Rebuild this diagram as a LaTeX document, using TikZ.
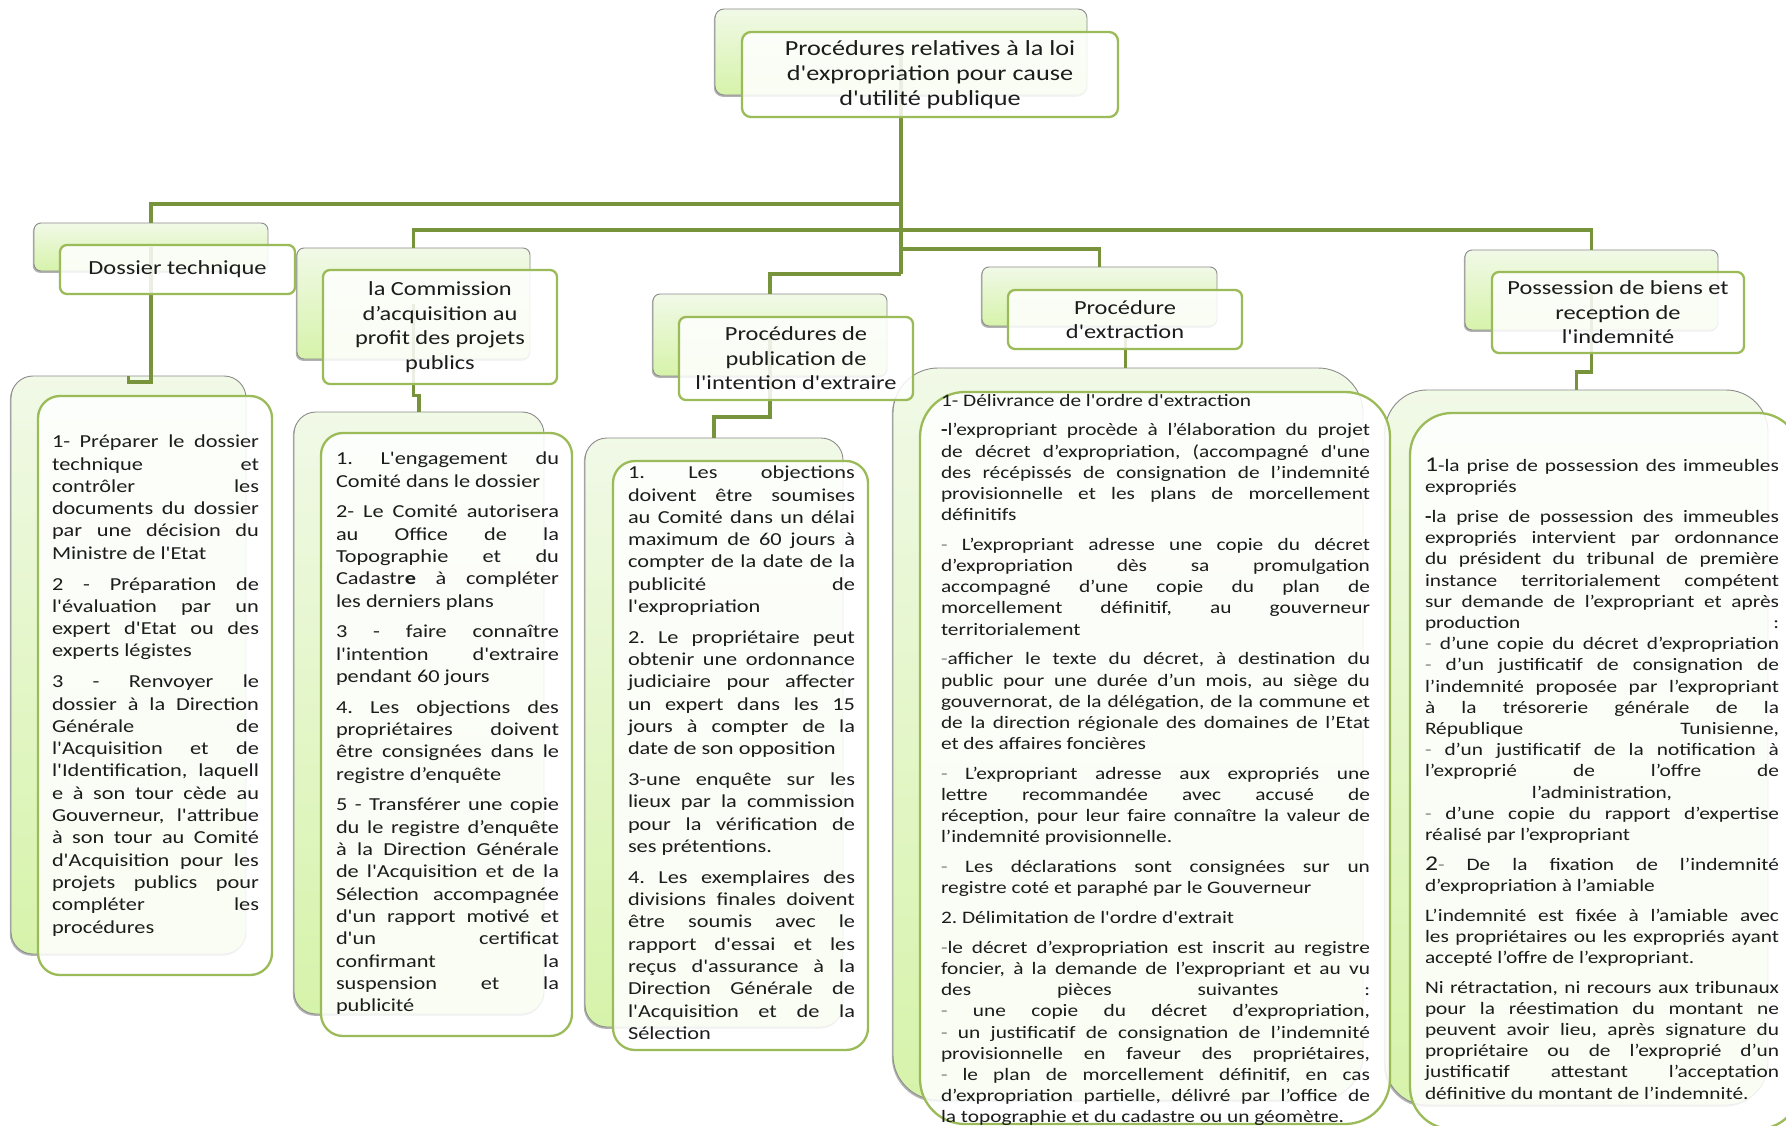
\documentclass[tikz,border=0pt]{standalone}
\usepackage{fontspec}
\setmainfont{Carlito}[FakeStretch=1.22,Ligatures=TeXOff]
\usetikzlibrary{shadows}
\definecolor{connc}{RGB}{119,147,60}
\definecolor{fbord}{RGB}{155,187,89}
\definecolor{btop}{RGB}{241,249,231}
\definecolor{bbot}{RGB}{214,243,170}
\definecolor{txt}{RGB}{28,28,28}
\newdimen\colw
\newcommand\jset[1]{\colw=#1\relax\spaceskip=\fontdimen2\font plus 1fil\relax\xspaceskip=\spaceskip\frenchspacing}
\newcommand\ljust[1]{\hbox to\colw{#1}}
\newcommand\llast[1]{\hbox to\colw{#1\hfill}}
\newcommand\lcent[1]{\hbox to\colw{\hfill#1\hfill}}
\newcommand\pgap{\vskip 8.5pt}
\newcommand\gd{\textcolor{black!50}{-}}
\hbadness=10000 \hfuzz=30pt
\begin{document}
\begin{tikzpicture}[x=1pt,y=-1pt,
  backbox/.style={draw=black!45, line width=0.9pt, top color=btop, bottom color=bbot,
    inner sep=0pt, outer sep=0pt, anchor=north west,
    drop shadow={shadow xshift=-1.2pt, shadow yshift=-1.8pt, opacity=0.3, fill=black}},
  frontbox/.style={draw=fbord, line width=2.3pt, fill=white, fill opacity=0.86,
    text opacity=1, inner sep=0pt, outer sep=0pt, text=txt, align=center, anchor=north west},
  lvlone/.style={font=\fontsize{20}{24.5}\selectfont},
  conn/.style={draw=connc, line width=3.6pt},
  ctA/.style={anchor=north west, inner sep=0pt, outer sep=0pt, text=txt, font=\fontsize{18.3}{22.3}\selectfont},
  ctB/.style={anchor=north west, inner sep=0pt, outer sep=0pt, text=txt, font=\fontsize{17.5}{21.2}\selectfont}
]
\useasboundingbox (0,0) rectangle (1786,1126);
\fill[white] (0,0) rectangle (1786,1126);
\begin{scope}
\clip (0,0) rectangle (1786,1126);

% ---------- boxes (named) ----------
% root
\node[backbox, rounded corners=9pt, minimum width=372pt, minimum height=86pt] (rootb) at (715,9) {};
% level one back boxes
\node[backbox, rounded corners=7pt, minimum width=234pt, minimum height=48pt] (dtb) at (34,223) {};
\node[backbox, rounded corners=7pt, minimum width=233pt, minimum height=111pt] (ctb) at (297,248) {};
\node[backbox, rounded corners=7pt, minimum width=234pt, minimum height=82pt] (pub) at (653,294) {};
\node[backbox, rounded corners=7pt, minimum width=235pt, minimum height=59pt] (exb) at (982,267) {};
\node[backbox, rounded corners=7pt, minimum width=253pt, minimum height=80pt] (psb) at (1465,250) {};

% trunk junctions
\coordinate (t1) at (901,204);
\coordinate (t2) at (901,230);
\coordinate (t3) at (901,249);
\coordinate (t4) at (901,274);

% ---------- connectors ----------
\draw[conn] (rootb.center) -- (t4);
\draw[conn] (t1) -| (dtb.north);
\draw[conn] (t2) -| (ctb.north);
\draw[conn] (t2) -| (psb.north);
\draw[conn] (t3) -| (exb.north);
\draw[conn] (t4) -| (pub.north);

% content back boxes
\node[backbox, rounded corners=22pt, minimum width=235pt, minimum height=578pt] (dcb) at (11,376) {};
\node[backbox, rounded corners=22pt, minimum width=250pt, minimum height=602pt] (ccb) at (294,412) {};
\node[backbox, rounded corners=22pt, minimum width=258pt, minimum height=589pt] (pcb) at (585,438) {};
\node[backbox, rounded corners=45pt, minimum width=470pt, minimum height=732pt] (ecb) at (893,368) {};
\node[backbox, rounded corners=42pt, minimum width=383pt, minimum height=715pt] (scb) at (1385,390) {};

\draw[conn] (dtb.center) -- ++(0,135) -| (dcb.north);
\draw[conn] (ctb.center) -- ++(0,92) -| (ccb.north);
\draw[conn] (pub.center) -- ++(0,82) -| (pcb.north);
\draw[conn] (exb.center |- ecb.north) ++(26,0) -- ++(0,-40) coordinate (exj);
\draw[conn] (psb.center) -- ++(0,82) -| (scb.north);

% front boxes (level one & root)
\node[frontbox, rounded corners=9pt, minimum width=376pt, minimum height=85pt,
  font=\fontsize{21.5}{25}\selectfont] (rootf) at (742,32)
  {Procédures relatives à la loi\\d'expropriation pour cause\\d'utilité publique};
\node[frontbox, lvlone, rounded corners=7pt, minimum width=235pt, minimum height=49pt] (dtf) at (60,245)
  {Dossier technique};
\node[frontbox, lvlone, rounded corners=7pt, minimum width=234pt, minimum height=114pt] (ctf) at (323,270)
  {la Commission\\d’acquisition au\\profit des projets\\publics};
\node[frontbox, lvlone, rounded corners=7pt, minimum width=234pt, minimum height=83pt] (puf) at (679,317)
  {Procédures de\\publication de\\l'intention d'extraire};
\node[frontbox, lvlone, rounded corners=7pt, minimum width=234pt, minimum height=59pt] (exf) at (1008,290)
  {Procédure\\d'extraction};
\node[frontbox, lvlone, rounded corners=7pt, minimum width=252pt, minimum height=81pt] (psf) at (1492,272)
  {Possession de biens et\\reception de\\l'indemnité};

% content front boxes
\node[frontbox, rounded corners=22pt, minimum width=234pt, minimum height=579pt] (dcf) at (38,396) {};
\node[frontbox, rounded corners=22pt, minimum width=251pt, minimum height=603pt] (ccf) at (321,433) {};
\node[frontbox, rounded corners=22pt, minimum width=255pt, minimum height=589pt] (pcf) at (613,461) {};
\node[frontbox, rounded corners=45pt, minimum width=470pt, minimum height=732pt] (ecf) at (920,392) {};
\node[frontbox, rounded corners=42pt, minimum width=390pt, minimum height=716pt] (scf) at (1410,413) {};

% ---------- content texts ----------
\node[ctA, text width=207pt] (dct) at (52,435) {\jset{207pt}%
\ljust{1- Préparer le dossier}
\ljust{technique et}
\ljust{contrôler les}
\ljust{documents du dossier}
\ljust{par une décision du}
\llast{Ministre de l'Etat}
\pgap
\ljust{2 - Préparation de}
\ljust{l'évaluation par un}
\ljust{expert d'Etat ou des}
\llast{experts légistes}
\pgap
\ljust{3 - Renvoyer le}
\ljust{dossier à la Direction}
\ljust{Générale de}
\ljust{l'Acquisition et de}
\ljust{l'Identification, laquell}
\ljust{e à son tour cède au}
\ljust{Gouverneur, l'attribue}
\ljust{à son tour au Comité}
\ljust{d'Acquisition pour les}
\ljust{projets publics pour}
\ljust{compléter les}
\llast{procédures}};

\node[ctA, text width=223pt] (cct) at (336,452) {\jset{223pt}%
\ljust{1. L'engagement du}
\llast{Comité dans le dossier}
\pgap
\ljust{2- Le Comité autorisera}
\ljust{au Office de la}
\ljust{Topographie et du}
\ljust{Cadastr\textbf{e} à compléter}
\llast{les derniers plans}
\pgap
\ljust{3 - faire connaître}
\ljust{l'intention d'extraire}
\llast{pendant 60 jours}
\pgap
\ljust{4. Les objections des}
\ljust{propriétaires doivent}
\ljust{être consignées dans le}
\llast{registre d’enquête}
\pgap
\ljust{5 - Transférer une copie}
\ljust{du le registre d’enquête}
\ljust{à la Direction Générale}
\ljust{de l'Acquisition et de la}
\ljust{Sélection accompagnée}
\ljust{d'un rapport motivé et}
\ljust{d'un certificat}
\ljust{confirmant la}
\ljust{suspension et la}
\llast{publicité}};

\node[ctA, text width=227pt] (pct) at (628,466) {\jset{227pt}%
\ljust{1. Les objections}
\ljust{doivent être soumises}
\ljust{au Comité dans un délai}
\ljust{maximum de 60 jours à}
\ljust{compter de la date de la}
\ljust{publicité de}
\llast{l'expropriation}
\pgap
\ljust{2. Le propriétaire peut}
\ljust{obtenir une ordonnance}
\ljust{judiciaire pour affecter}
\ljust{un expert dans les 15}
\ljust{jours à compter de la}
\llast{date de son opposition}
\pgap
\ljust{3-une enquête sur les}
\ljust{lieux par la commission}
\ljust{pour la vérification de}
\llast{ses prétentions.}
\pgap
\ljust{4. Les exemplaires des}
\ljust{divisions finales doivent}
\ljust{être soumis avec le}
\ljust{rapport d'essai et les}
\ljust{reçus d'assurance à la}
\ljust{Direction Générale de}
\ljust{l'Acquisition et de la}
\llast{Sélection}};

\node[ctB, text width=429pt] (ect) at (941,394) {\jset{429pt}%
\llast{1- Délivrance de l'ordre d'extraction}
\pgap
\ljust{\textbf{-}l’expropriant procède à l’élaboration du projet}
\ljust{de décret d’expropriation, (accompagné d'une}
\ljust{des récépissés de consignation de l’indemnité}
\ljust{provisionnelle et les plans de morcellement}
\llast{définitifs}
\pgap
\ljust{\gd{} L’expropriant adresse une copie du décret}
\ljust{d’expropriation dès sa promulgation}
\ljust{accompagné d’une copie du plan de}
\ljust{morcellement définitif, au gouverneur}
\llast{territorialement}
\pgap
\ljust{\gd afficher le texte du décret, à destination du}
\ljust{public pour une durée d’un mois, au siège du}
\ljust{gouvernorat, de la délégation, de la commune et}
\ljust{de la direction régionale des domaines de l’Etat}
\llast{et des affaires foncières}
\pgap
\ljust{\gd{} L’expropriant adresse aux expropriés une}
\ljust{lettre recommandée avec accusé de}
\ljust{réception, pour leur faire connaître la valeur de}
\llast{l’indemnité provisionnelle.}
\pgap
\ljust{\gd{} Les déclarations sont consignées sur un}
\llast{registre coté et paraphé par le Gouverneur}
\pgap
\llast{2. Délimitation de l'ordre d'extrait}
\pgap
\ljust{\gd le décret d’expropriation est inscrit au registre}
\ljust{foncier, à la demande de l’expropriant et au vu}
\ljust{des pièces suivantes :}
\ljust{\gd{} une copie du décret d’expropriation,}
\ljust{\gd{} un justificatif de consignation de l’indemnité}
\ljust{provisionnelle en faveur des propriétaires,}
\ljust{\gd{} le plan de morcellement définitif, en cas}
\ljust{d’expropriation partielle, délivré par l’office de}
\llast{la topographie et du cadastre ou un géomètre.}};

\node[ctB, text width=354pt] (sct) at (1425,458) {\jset{354pt}%
\ljust{{\fontsize{21}{21}\selectfont 1}-la prise de possession des immeubles}
\llast{expropriés}
\pgap
\ljust{\textbf{-}la prise de possession des immeubles}
\ljust{expropriés intervient par ordonnance}
\ljust{du président du tribunal de première}
\ljust{instance territorialement compétent}
\ljust{sur demande de l’expropriant et après}
\ljust{production :}
\ljust{\gd{} d’une copie du décret d’expropriation}
\ljust{\gd{} d’un justificatif de consignation de}
\ljust{l’indemnité proposée par l’expropriant}
\ljust{à la trésorerie générale de la}
\ljust{République Tunisienne,}
\ljust{\gd{} d’un justificatif de la notification à}
\ljust{l’exproprié de l’offre de}
\lcent{l’administration,}
\ljust{\gd{} d’une copie du rapport d’expertise}
\llast{réalisé par l’expropriant}
\pgap
\ljust{{\fontsize{21}{21}\selectfont 2}\gd{} De la fixation de l’indemnité}
\llast{d’expropriation à l’amiable}
\pgap
\ljust{L’indemnité est fixée à l’amiable avec}
\ljust{les propriétaires ou les expropriés ayant}
\llast{accepté l’offre de l’expropriant.}
\pgap
\ljust{Ni rétractation, ni recours aux tribunaux}
\ljust{pour la réestimation du montant ne}
\ljust{peuvent avoir lieu, après signature du}
\ljust{propriétaire ou de l’exproprié d’un}
\ljust{justificatif attestant l’acceptation}
\llast{définitive du montant de l’indemnité.}};
\end{scope}
\end{tikzpicture}
\end{document}
